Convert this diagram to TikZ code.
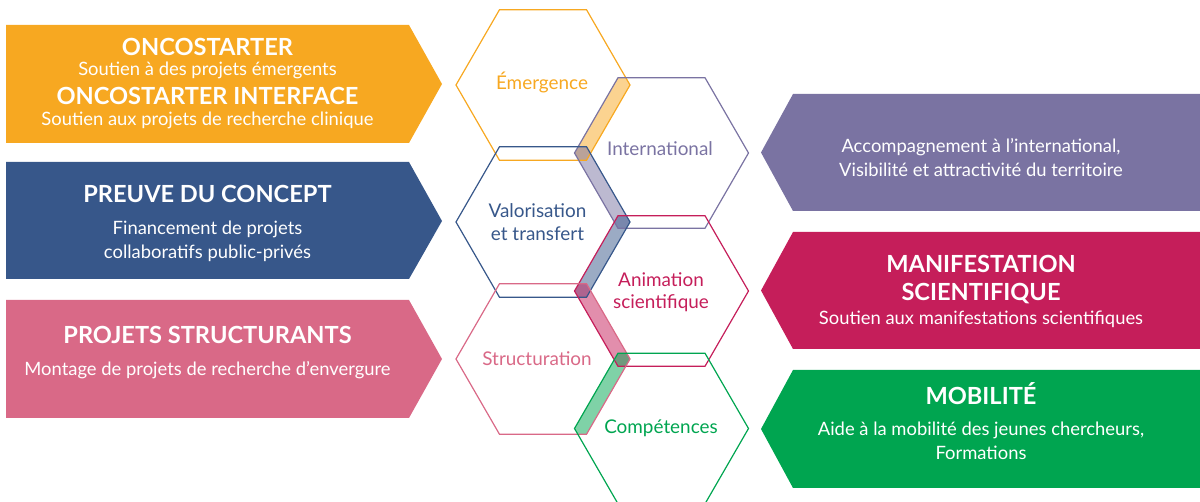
\documentclass[tikz,border=0pt]{standalone}
\usepackage{fontspec}
\setmainfont{Lato}
\definecolor{cOr}{RGB}{247,168,33}
\definecolor{cBl}{RGB}{55,87,138}
\definecolor{cPk}{RGB}{217,105,135}
\definecolor{cPu}{RGB}{122,115,162}
\definecolor{cCr}{RGB}{197,30,90}
\definecolor{cGr}{RGB}{0,165,80}
\begin{document}
\begin{tikzpicture}[x=1pt,y=-1pt,
  hexagon/.style={insert path={(87,0) -- (43.5,75.3) -- (-43.5,75.3) -- (-87,0) -- (-43.5,-75.3) -- (43.5,-75.3) -- cycle}},
  hexline/.style={line width=1.2pt},
  strip/.style={fill opacity=0.5},
  boxtitle/.style={anchor=base,inner sep=0pt,text=white,font=\fontsize{23.6}{28}\selectfont\bfseries},
  boxtext/.style={anchor=base,inner sep=0pt,text=white,font=\fontsize{18.4}{22}\selectfont},
  hexlabel/.style={anchor=base,inner sep=0pt,font=\fontsize{18.9}{22}\selectfont}]
\useasboundingbox (0,0) rectangle (1200,502);
% hexagon centres
\coordinate (hE) at (543,85);
\coordinate (hI) at (661.5,153);
\coordinate (hV) at (543,222);
\coordinate (hA) at (661.5,291);
\coordinate (hS) at (543,359);
\coordinate (hC) at (661.5,428.5);
% arrow boxes
\fill[cOr] (6,25) -- (409,25) -- (442,84) -- (409,143) -- (6,143) -- cycle;
\fill[cBl] (6,162) -- (409,162) -- (442,221) -- (409,279) -- (6,279) -- cycle;
\fill[cPk] (6,300) -- (409,300) -- (442,359) -- (409,418) -- (6,418) -- cycle;
\fill[cPu] (1200,94) -- (793,94) -- (761,152.5) -- (793,211) -- (1200,211) -- cycle;
\fill[cCr] (1200,232) -- (793,232) -- (761,290.5) -- (793,349) -- (1200,349) -- cycle;
\fill[cGr] (1200,370) -- (793,370) -- (761,429) -- (793,488) -- (1200,488) -- cycle;
% overlap strips
\begin{scope}\clip[shift={(hE)},hexagon]; \fill[cOr,strip,shift={(hI)},hexagon]; \end{scope}
\begin{scope}\clip[shift={(hI)},hexagon]; \fill[cPu,strip,shift={(hV)},hexagon]; \end{scope}
\begin{scope}\clip[shift={(hV)},hexagon]; \fill[cBl,strip,shift={(hA)},hexagon]; \end{scope}
\begin{scope}\clip[shift={(hA)},hexagon]; \fill[cCr,strip,shift={(hS)},hexagon]; \end{scope}
\begin{scope}\clip[shift={(hS)},hexagon]; \fill[cGr,strip,shift={(hC)},hexagon]; \end{scope}
% hexagon outlines
\draw[cOr,hexline,shift={(hE)},hexagon];
\draw[cPu,hexline,shift={(hI)},hexagon];
\draw[cBl,hexline,shift={(hV)},hexagon];
\draw[cCr,hexline,shift={(hA)},hexagon];
\draw[cPk,hexline,shift={(hS)},hexagon];
\draw[cGr,hexline,shift={(hC)},hexagon];
% hexagon labels
\node[hexlabel,text=cOr] (lE) at (542,90) {Émergence};
\node[hexlabel,text=cPu] (lI) at (660,155.5) {International};
\node[hexlabel,text=cBl] (lV1) at (537.5,218) {Valorisation};
\node[hexlabel,text=cBl] (lV2) at (537.5,240.5) {et transfert};
\node[hexlabel,text=cCr] (lA1) at (661,287) {Animation};
\node[hexlabel,text=cCr] (lA2) at (661,309) {scientifique};
\node[hexlabel,text=cPk] (lS) at (537,365.5) {Structuration};
\node[hexlabel,text=cGr] (lC) at (661,434) {Compétences};
% box texts left
\node[boxtitle] (t1a) at (207.5,55.5) {ONCOSTARTER};
\node[boxtext] (t1b) at (207.5,75.5) {Soutien à des projets émergents};
\node[boxtitle] (t1c) at (207.5,105) {ONCOSTARTER INTERFACE};
\node[boxtext] (t1d) at (207.5,126) {Soutien aux projets de recherche clinique};
\node[boxtitle] (t2a) at (207.5,203) {PREUVE DU CONCEPT};
\node[boxtext] (t2b) at (207.5,234.5) {Financement de projets};
\node[boxtext] (t2c) at (207.5,259) {collaboratifs public-privés};
\node[boxtitle] (t3a) at (207.5,344) {PROJETS STRUCTURANTS};
\node[boxtext] (t3b) at (207.5,376) {Montage de projets de recherche d’envergure};
% box texts right
\node[boxtext] (t4a) at (981,152.5) {Accompagnement à l’international,};
\node[boxtext] (t4b) at (981,177) {Visibilité et attractivité du territoire};
\node[boxtitle] (t5a) at (981,272.5) {MANIFESTATION};
\node[boxtitle] (t5b) at (981,301) {SCIENTIFIQUE};
\node[boxtext] (t5c) at (981,324.5) {Soutien aux manifestations scientifiques};
\node[boxtitle] (t6a) at (981,405) {MOBILITÉ};
\node[boxtext] (t6b) at (981,436) {Aide à la mobilité des jeunes chercheurs,};
\node[boxtext] (t6c) at (981,460) {Formations};
\end{tikzpicture}
\end{document}
